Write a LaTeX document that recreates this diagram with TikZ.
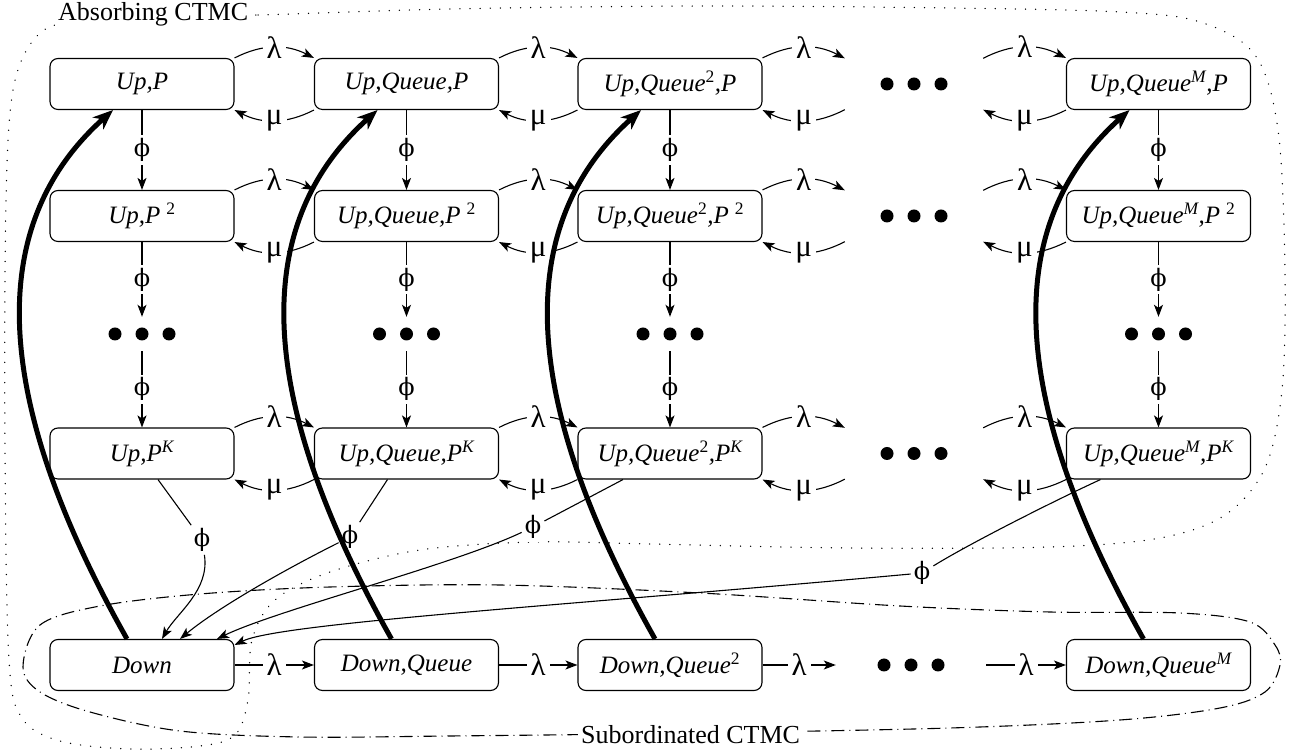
\documentclass[tikz,border=0pt]{standalone}
\usepackage{fontspec}
\setmainfont{Liberation Serif}
\newfontfamily\gkf{DejaVu Serif}
\usetikzlibrary{arrows.meta}
\newcommand\fs{\fontsize{25}{30}\selectfont}
\newcommand\fsg{\fontsize{31}{32}\selectfont}
\newcommand\fsl{\fontsize{26}{30}\selectfont}
\newcommand\sq{\textsuperscript{\hspace{6pt}2}}
\newcommand\lam{λ}
\newcommand\mmu{μ}
\newcommand\phs{{\gkf\fontsize{24}{30}\selectfont ϕ}}
\begin{document}
\begin{tikzpicture}[x=1pt,y=1pt,
  st/.style={draw, rounded corners=8pt, line width=1.1pt, minimum width=184pt, minimum height=51pt, inner sep=0pt, font=\fs, fill=white},
  dotsh/.style={minimum width=138pt, minimum height=51pt, inner sep=0pt},
  dotsv/.style={minimum width=70pt, minimum height=34pt, inner sep=0pt},
  lab/.style={fill=white, inner sep=3pt, font=\fsg},
  hlab/.style={fill=white, inner xsep=4pt, inner ysep=2pt, font=\fsg},
  tr/.style={line width=1.1pt, -{Stealth[length=12pt,width=9pt,inset=3pt]}},
  thinl/.style={line width=1.1pt},
  big/.style={line width=5pt, -{Stealth[length=20pt,width=16pt,inset=6pt]}},
  regionA/.style={line width=1.4pt, line cap=round, dash pattern=on 0.1pt off 10pt},
  regionS/.style={line width=1.1pt, dash pattern=on 13pt off 5pt on 1pt off 5pt}
]
\useasboundingbox (0,0) rectangle (1299,755);

% regions
\draw[regionA] plot[smooth cycle, tension=0.55] coordinates {
 (150,739) (258,740) (450,746) (700,749) (950,747) (1120,743) (1200,733)
 (1255,700) (1278,625) (1285,485) (1282,365) (1265,287) (1225,240)
 (1160,217) (1050,208) (850,207) (650,211) (533,213) (420,205) (330,183)
 (275,155) (252,115) (248,55) (235,20) (200,9) (130,6) (60,14) (22,37)
 (9,95) (5,305) (6,555) (14,670) (40,722) (85,735)};
\draw[regionS] plot[smooth cycle, tension=0.55] coordinates {
 (23,88) (40,130) (100,149) (200,161) (330,168) (500,170) (700,162)
 (900,149) (1050,143) (1180,142) (1250,133) (1275,110) (1280,90)
 (1265,63) (1220,47) (1120,35) (950,27) (700,22) (450,19) (300,18)
 (180,24) (90,43) (40,63)};

% row a
\node[st] (a1) at (142,671) {\textit{Up,P}};
\node[st] (a2) at (406.5,671) {\textit{Up,Queue,P}};
\node[st] (a3) at (670,671) {\textit{Up,Queue}\textsuperscript{2}\textit{,P}};
\node[dotsh] (a4) at (914,671) {};
\node[st] (a5) at (1158.5,671) {\textit{Up,Queue\textsuperscript{M},P}};
% row b
\node[st] (b1) at (142,539) {\textit{Up,P}\sq};
\node[st] (b2) at (406.5,539) {\textit{Up,Queue,P}\sq};
\node[st] (b3) at (670,539) {\textit{Up,Queue}\textsuperscript{2}\textit{,P}\sq};
\node[dotsh] (b4) at (914,539) {};
\node[st] (b5) at (1158.5,539) {\textit{Up,Queue\textsuperscript{M},P}\sq};
% row c (dots)
\node[dotsv] (c1) at (142,421) {};
\node[dotsv] (c2) at (406.5,421) {};
\node[dotsv] (c3) at (670,421) {};
\node[dotsv] (c5) at (1158.5,421) {};
% row d
\node[st] (d1) at (142,301.5) {\textit{Up,P\textsuperscript{K}}};
\node[st] (d2) at (406.5,301.5) {\textit{Up,Queue,P\textsuperscript{K}}};
\node[st] (d3) at (670,301.5) {\textit{Up,Queue}\textsuperscript{2}\textit{,P\textsuperscript{K}}};
\node[dotsh] (d4) at (914,301.5) {};
\node[st] (d5) at (1158.5,301.5) {\textit{Up,Queue\textsuperscript{M},P\textsuperscript{K}}};
% row e
\node[st] (e1) at (142,90) {\textit{Down}};
\node[st] (e2) at (406.5,90) {\textit{Down,Queue}};
\node[st] (e3) at (670,90) {\textit{Down,Queue}\textsuperscript{2}};
\node[dotsh, minimum width=150pt] (e4) at (911,90) {};
\node[st] (e5) at (1158.5,90) {\textit{Down,Queue\textsuperscript{M}}};

% dots
\foreach \n in {a4,b4,d4,e4,c1,c2,c3,c5}
  \foreach \dx in {-27,0,27}
    \fill ([xshift=\dx pt]\n.center) circle (6.5pt);

% horizontal transitions
\foreach \r in {a,b,d}{
  \foreach \i/\j in {1/2,2/3,3/4,4/5}{
    \draw[tr] (\r\i.north east) to[bend left=27] node[hlab]{\lam} (\r\j.north west);
    \draw[tr] (\r\j.south west) to[bend left=27] node[hlab]{\mmu} (\r\i.south east);
  }
}
\foreach \i/\j in {1/2,2/3,3/4,4/5}
  \draw[tr] (e\i) -- node[hlab]{\lam} (e\j);

% vertical transitions
\foreach \c in {1,2,3,5}{
  \draw[tr] (a\c) -- node[lab]{\phs} (b\c);
  \draw[tr] (b\c) -- node[lab]{\phs} (c\c);
  \draw[tr] (c\c) -- node[lab]{\phs} (d\c);
}

% failures to Down
\node[lab] (p1) at (202,215) {\phs};
\node[lab] (p2) at (350,218) {\phs};
\node[lab] (p3) at (533,228) {\phs};
\node[lab] (p4) at (922,182) {\phs};
\draw[thinl] ([xshift=16pt]d1.south) -- (p1);
\draw[tr] (p1) .. controls +(8,-50) and +(15,26) .. ([xshift=20pt]e1.north);
\draw[thinl] ([xshift=-19pt]d2.south) -- (p2);
\draw[tr] (p2) .. controls +(-60,-30) and +(40,33) .. ([xshift=38pt]e1.north);
\draw[thinl] ([xshift=-47pt]d3.south) -- (p3);
\draw[tr] (p3) .. controls +(-80,-38) and +(60,29) .. ([xshift=75pt]e1.north);
\draw[thinl] ([xshift=-58pt]d5.south) .. controls +(-50,-23) and +(45,28) .. (p4);
\draw[tr] (p4) .. controls +(-350,-32) and +(45,22) .. ([yshift=20pt]e1.east);

% repairs
\foreach \c in {1,2,3,5}
  \draw[big] ([xshift=-15pt]e\c.north) .. controls +(-142,252) and +(-123,-110) .. ([xshift=-29pt]a\c.south);

% region labels
\node[fill=white, inner sep=3pt, font=\fsl, anchor=base west] (absl) at (55,734) {Absorbing CTMC};
\node[fill=white, inner sep=3pt, font=\fsl, anchor=base west] (subl) at (578,11) {Subordinated CTMC};
\end{tikzpicture}
\end{document}
